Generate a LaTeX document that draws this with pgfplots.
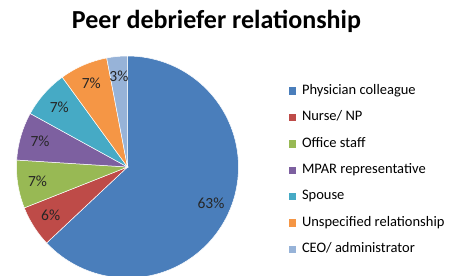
\documentclass[border=0pt]{standalone}
\usepackage{pgfplots}
\pgfplotsset{compat=1.18}
\usepackage{fontspec}
\setmainfont{Carlito}

\definecolor{cPhys}{HTML}{4A7EBB}
\definecolor{cNurse}{HTML}{BE4B48}
\definecolor{cOffice}{HTML}{98B954}
\definecolor{cMpar}{HTML}{7D60A0}
\definecolor{cSpouse}{HTML}{46AAC5}
\definecolor{cUnspec}{HTML}{F59645}
\definecolor{cCeo}{HTML}{97B3D8}

\newcommand\legfont{\fontsize{14.5bp}{16bp}\selectfont}
\newcommand\labfont{\fontsize{15.5bp}{17bp}\selectfont}

% one wedge: start (%), share (%), colour, legend text
% angles run clockwise from 12 o'clock
\newcommand\slice[4]{%
  \pgfmathsetmacro\sa{#1*3.6}%
  \pgfmathsetmacro\sb{(#1+#2)*3.6}%
  \pgfmathsetmacro\sm{(\sa+\sb)/2}%
  \pgfmathsetmacro\lx{0.82*sin(\sm)}%
  \pgfmathsetmacro\ly{0.82*cos(\sm)}%
  \edef\temp{%
    \noexpand\addplot[fill=#3, draw=white, line width=0.5bp,
      domain=\sa:\sb, samples=90]
      ({sin(x)},{cos(x)}) -- (axis cs:0,0) -- cycle;
    \noexpand\addlegendentry{\noexpand\legfont #4}
    \noexpand\node[text=black!85] at (axis cs:\lx,\ly)
      {\noexpand\labfont #2\noexpand\%};
  }\temp
}

\begin{document}
\begin{tikzpicture}
\node[font=\fontsize{26bp}{30bp}\selectfont\bfseries, anchor=base]
  at (216.5bp,-28bp) {Peer debriefer relationship};
\begin{axis}[
  hide axis, scale only axis,
  width=222bp, height=222bp,
  xmin=-1, xmax=1, ymin=-1, ymax=1,
  at={(127.5bp,-167bp)}, anchor=center,
  clip=false,
  legend cell align=left,
  legend style={draw=none, fill=none,
    at={(1.212,0.882)}, anchor=north west,
    row sep=12.4bp,
    nodes={inner sep=0pt, text height=10bp, text depth=4bp}},
  legend image code/.code={%
    \path[#1, draw=none] (0bp,-3.5bp) rectangle (7.5bp,4bp);
    \path (13bp,0bp);},
]
\slice{0}{63}{cPhys}{Physician colleague}
\slice{63}{6}{cNurse}{Nurse/ NP}
\slice{69}{7}{cOffice}{Office staff}
\slice{76}{7}{cMpar}{MPAR representative}
\slice{83}{7}{cSpouse}{Spouse}
\slice{90}{7}{cUnspec}{Unspecified relationship}
\slice{97}{3}{cCeo}{CEO/ administrator}
\end{axis}
\pgfresetboundingbox
\useasboundingbox (0,0) rectangle (461bp,-276bp);
\end{tikzpicture}
\end{document}
